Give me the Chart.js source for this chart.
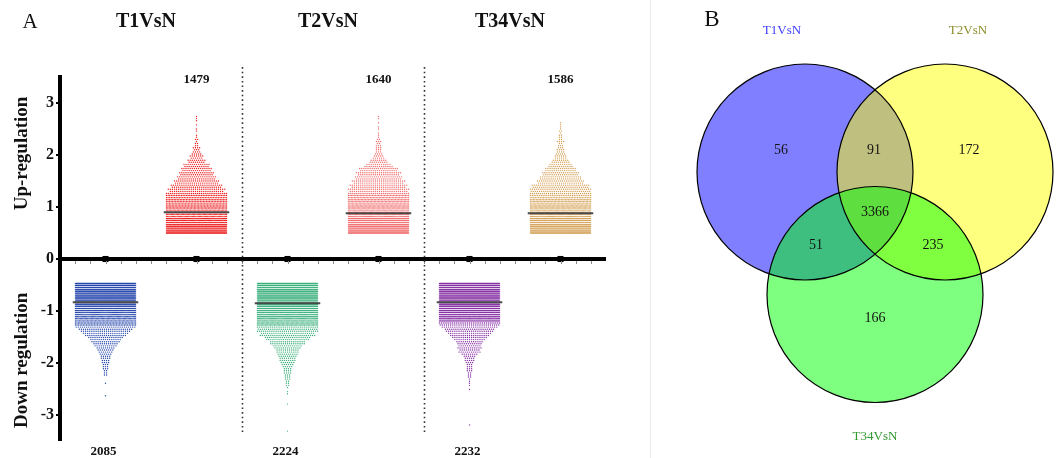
<!DOCTYPE html>
<html>
<head>
<meta charset="utf-8">
<script src="https://cdn.jsdelivr.net/npm/chart.js@4.4.1/dist/chart.umd.min.js"></script>
<style>
  html, body { margin: 0; padding: 0; background: #fff; }
  #wrap { position: relative; width: 1060px; height: 458px; overflow: hidden; }
  #swarm { position: absolute; left: 0; top: 0; }
  #venn { position: absolute; left: 652px; top: 0; }
  #divider { position: absolute; left: 650px; top: 0; width: 1px; height: 458px; background: #ececec; }
</style>
</head>
<body>
<div id="wrap">
  <canvas id="swarm" width="650" height="458"></canvas>
  <div id="divider"></div>
  <canvas id="venn" width="408" height="458"></canvas>
</div>
<script>
// ---------- data ----------
const groups = ['T1VsN', 'T2VsN', 'T34VsN'];
const yTickValues = [-3, -2, -1, 0, 1, 2, 3];

// log2 fold-change rows, 0.04 apart; counts = genes per row
const rowStep = 0.04;
const upStart = 0.50;
const downStart = -0.47;

const upCountsT1 = [98, 92, 86, 81, 76, 72, 68, 64, 52, 50,
  48, 46, 44, 42, 42, 40, 40, 38, 37,
  32, 26, 28, 24, 25, 21, 22, 18, 19, 16, 17, 14, 15, 12, 13, 8, 9, 6, 7, 5, 4, 3,
  4, 2, 2, 1, 2, 1, 1, 0, 1, 1, 0, 1, 0, 1, 1, 1];
const upCountsT2 = [108, 102, 96, 90, 85, 80, 76, 72, 58, 53,
  53, 51, 49, 47, 46, 45, 43, 42, 41,
  32, 28, 30, 26, 28, 24, 26, 22, 23, 20, 22, 18, 19, 14, 12, 9, 8, 6, 5, 4, 3, 3,
  3, 3, 2, 3, 2, 1, 1, 1, 0, 1, 1, 0, 1, 0, 1, 1];
const upCountsT34 = [104, 98, 92, 86, 81, 77, 73, 69, 58, 55,
  54, 52, 50, 48, 46, 44, 42, 38, 34,
  31, 29, 30, 27, 28, 22, 23, 20, 20, 17, 18, 15, 15, 12, 11, 9, 8, 6, 6, 5, 4, 4,
  3, 3, 2, 4, 2, 2, 2, 1, 2, 1, 1, 1, 1];

const downCountsT1 = [128, 124, 120, 117, 114, 111, 110, 108, 110,
  103, 96, 88, 78, 70, 64, 58, 54, 50, 46, 42, 39,
  29, 26, 24, 22, 20, 17, 15, 14, 12, 11, 9, 8, 7, 6, 5, 5, 4, 4, 3, 3,
  3, 2, 2, 2, 0, 0, 0, 1, 0, 0, 0, 0, 0, 1];
const downCountsT2 = [125, 120, 117, 114, 111, 109, 107, 105, 104, 100,
  99, 92, 85, 77, 71, 65, 61, 57, 53, 49, 47,
  33, 29, 30, 26, 27, 22, 21, 17, 17, 14, 13, 11, 11, 10, 9, 8, 8, 7, 6, 5, 4, 4,
  4, 3, 3, 3, 2, 2, 2, 1, 0, 1, 1, 0, 0, 0, 0, 1, 0, 0, 0, 0, 0, 0, 0, 0, 0, 0, 0, 0, 1];
const downCountsT34 = [126, 121, 118, 115, 112, 110, 108, 106, 104, 100,
  111, 110, 102, 94, 86, 79, 73, 67, 61,
  33, 29, 27, 24, 23, 21, 19, 17, 15, 13, 12, 11, 12, 10, 11, 8, 6, 5, 5, 4, 3, 3, 3,
  3, 2, 2, 2, 1, 1, 1, 1, 0, 1, 0, 0, 0, 0, 0, 0, 0, 0, 0, 0, 0, 0, 0, 0, 0, 0, 1];

// Venn regions (gene counts)
const vennSets = ['T1VsN', 'T2VsN', 'T34VsN'];
const vennRegionNames = ['T1 only', 'T1&T2', 'T2 only', 'T1&T2&T34', 'T1&T34', 'T2&T34', 'T34 only'];
const vennRegionCounts = [56, 91, 172, 3366, 51, 235, 166];

// ---------- styles / layout ----------
const upCounts = [upCountsT1, upCountsT2, upCountsT34];
const downCounts = [downCountsT1, downCountsT2, downCountsT34];
const upColors = ['rgb(236,30,30)', 'rgb(240,108,108)', 'rgb(212,160,86)'];
const downColors = ['rgb(40,72,172)', 'rgb(62,176,126)', 'rgb(134,50,164)'];
const SERIF = '"Liberation Serif", "Times New Roman", serif';
const DOT_GAP = 0.023;      // x units between neighbouring dots
const SWARM_HALF = 0.33;    // half width of a swarm row, x units
const MEDIAN_HALF = 0.36;

function sum(a) { return a.reduce((s, v) => s + v, 0); }

// lay each row of genes out side by side around the group centre
function swarmPoints(xc, start, dir, counts) {
  const pts = [];
  counts.forEach((n, i) => {
    const v = Math.round((start + dir * i * rowStep) * 1000) / 1000;
    const gap = n > 1 ? Math.min(DOT_GAP, SWARM_HALF * 2 / (n - 1)) : 0;
    for (let k = 0; k < n; k++) pts.push({ x: xc + (k - (n - 1) / 2) * gap, y: v });
  });
  return pts;
}
function median(pts) {
  const v = pts.map(p => p.y).sort((a, b) => a - b);
  const m = v.length >> 1;
  return v.length % 2 ? v[m] : (v[m - 1] + v[m]) / 2;
}

const upX = groups.map((g, i) => 2 * i + 1.5);
const downX = groups.map((g, i) => 2 * i + 0.5);
const axisMarks = [...downX, ...upX].sort((a, b) => a - b);

const datasets = [];
const medians = [];
groups.forEach((g, i) => {
  const up = swarmPoints(upX[i], upStart, 1, upCounts[i]);
  const down = swarmPoints(downX[i], downStart, -1, downCounts[i]);
  medians.push({ x: upX[i], y: median(up) }, { x: downX[i], y: median(down) });
  datasets.push({ label: g + ' up', data: up, pointBackgroundColor: upColors[i], order: 2 });
  datasets.push({ label: g + ' down', data: down, pointBackgroundColor: downColors[i], order: 2 });
});
datasets.forEach(d => Object.assign(d, { pointRadius: 0.7, pointBorderWidth: 0, pointHoverRadius: 0 }));
datasets.push({
  label: 'marks', data: axisMarks.map(x => ({ x, y: 0 })), pointStyle: 'rect',
  pointRadius: 4.3, pointBackgroundColor: '#000', pointBorderWidth: 0, order: 0
});

const swarmDecor = {
  id: 'swarmDecor',
  afterDatasetsDraw(chart) {
    const c = chart.ctx, xs = chart.scales.x, ys = chart.scales.y;
    c.save();
    // minor marks under the zero line
    c.fillStyle = '#8a8a8a';
    for (let k = 1; k < 36; k++) {
      const px = Math.round(xs.getPixelForValue(k / 6));
      c.fillRect(px, ys.getPixelForValue(0) + 2, 1, 3);
    }
    // dotted group separators
    c.strokeStyle = '#333'; c.lineWidth = 1.6; c.setLineDash([1.6, 3]);
    [2, 4].forEach(v => {
      const px = Math.round(xs.getPixelForValue(v)) + 0.5;
      c.beginPath();
      c.moveTo(px, ys.getPixelForValue(3.69));
      c.lineTo(px, ys.getPixelForValue(-3.35));
      c.stroke();
    });
    c.setLineDash([]);
    // medians
    c.strokeStyle = '#4a4a4a'; c.lineWidth = 2;
    medians.forEach(m => {
      const py = ys.getPixelForValue(m.y);
      c.beginPath();
      c.moveTo(xs.getPixelForValue(m.x - MEDIAN_HALF), py);
      c.lineTo(xs.getPixelForValue(m.x + MEDIAN_HALF), py);
      c.stroke();
    });
    // texts
    c.fillStyle = '#111'; c.textAlign = 'center'; c.textBaseline = 'middle';
    c.font = '21px ' + SERIF;
    c.fillText('A', 30, 22);
    c.font = 'bold 20px ' + SERIF;
    groups.forEach((g, i) => c.fillText(g, xs.getPixelForValue(2 * i + 1) - 5, 22));
    c.font = 'bold 13px ' + SERIF;
    groups.forEach((g, i) => {
      c.fillText(String(sum(upCounts[i])), xs.getPixelForValue(upX[i]), 80);
      c.fillText(String(sum(downCounts[i])), xs.getPixelForValue(downX[i]) - 2, 452);
    });
    c.font = 'bold 19px ' + SERIF;
    [['Up-regulation', 2.03], ['Down regulation', -1.95]].forEach(([t, v]) => {
      c.save();
      c.translate(22, ys.getPixelForValue(v));
      c.rotate(-Math.PI / 2);
      c.fillText(t, 0, 0);
      c.restore();
    });
    c.restore();
  }
};

new Chart(document.getElementById('swarm'), {
  type: 'scatter',
  data: { datasets },
  options: {
    responsive: false, animation: false, events: [],
    layout: { padding: { top: 77, bottom: 17, left: 0, right: 44 } },
    plugins: { legend: { display: false }, tooltip: { enabled: false } },
    scales: {
      x: { type: 'linear', min: 0, max: 6, display: false },
      y: {
        type: 'linear', min: -3.5, max: 3.5,
        afterFit: s => { s.width = 60; },
        afterBuildTicks: s => { s.ticks = yTickValues.map(v => ({ value: v })); },
        ticks: { color: '#111', padding: 2, font: { family: SERIF, size: 16, weight: 'bold' } },
        grid: {
          drawOnChartArea: true,
          color: c => (c.tick && c.tick.value === 0) ? '#000' : 'rgba(0,0,0,0)',
          lineWidth: c => (c.tick && c.tick.value === 0) ? 4 : 0,
          tickColor: '#000', tickWidth: 2, tickLength: 4
        },
        border: { display: true, color: '#000', width: 4 }
      }
    }
  },
  plugins: [swarmDecor]
});

// ---------- Venn diagram ----------
// circle centres and radius in the Venn panel's own coordinate frame
const vennCircles = [{ x: 153, y: 172, size: 108 }, { x: 293, y: 172, size: 108 }, { x: 223, y: 294.5, size: 108 }];
const vennFills = ['rgba(0,0,255,0.5)', 'rgba(255,255,0,0.5)', 'rgba(0,255,0,0.5)'];
const vennRegionPos = [[129, 150], [222, 150], [317, 150], [223, 212], [164, 245], [281, 245], [223, 318]];
const vennSetPos = [[130, 31], [316, 31], [223, 437]];
const vennSetColors = ['#4040ff', '#8c8c2c', '#2f9a2f'];

const vennDraw = {
  id: 'vennDraw',
  beforeDatasetsDraw(chart) {
    const c = chart.ctx, xs = chart.scales.x, ys = chart.scales.y;
    const geo = vennCircles.map(v => ({
      cx: xs.getPixelForValue(v.x),
      cy: ys.getPixelForValue(v.y),
      r: xs.getPixelForValue(v.x + v.size) - xs.getPixelForValue(v.x)
    }));
    c.save();
    geo.forEach((g, i) => {
      c.beginPath();
      c.arc(g.cx, g.cy, g.r, 0, Math.PI * 2);
      c.fillStyle = vennFills[i];
      c.fill();
    });
    c.strokeStyle = '#000'; c.lineWidth = 1.2;
    geo.forEach(g => {
      c.beginPath();
      c.arc(g.cx, g.cy, g.r, 0, Math.PI * 2);
      c.stroke();
    });
    c.restore();
  },
  afterDatasetsDraw(chart) {
    const c = chart.ctx, xs = chart.scales.x, ys = chart.scales.y;
    c.save();
    c.textAlign = 'center'; c.textBaseline = 'middle';
    c.fillStyle = '#111';
    c.font = '23px ' + SERIF;
    c.fillText('B', 60, 20);
    c.font = '14px ' + SERIF;
    vennRegionCounts.forEach((n, i) => {
      c.fillText(String(n), xs.getPixelForValue(vennRegionPos[i][0]), ys.getPixelForValue(vennRegionPos[i][1]));
    });
    c.font = '13px ' + SERIF;
    vennSets.forEach((s, i) => {
      c.fillStyle = vennSetColors[i];
      c.fillText(s, xs.getPixelForValue(vennSetPos[i][0]), ys.getPixelForValue(vennSetPos[i][1]));
    });
    c.restore();
  }
};

new Chart(document.getElementById('venn'), {
  type: 'scatter',
  data: { datasets: [{ label: 'centres', data: vennCircles.map(v => ({ x: v.x, y: v.y })), pointRadius: 0, pointHoverRadius: 0 }] },
  options: {
    responsive: false, animation: false, events: [],
    layout: { padding: 0 },
    plugins: { legend: { display: false }, tooltip: { enabled: false } },
    scales: {
      x: { type: 'linear', min: 0, max: 408, display: false },
      y: { type: 'linear', min: 0, max: 458, reverse: true, display: false }
    }
  },
  plugins: [vennDraw]
});
</script>
</body>
</html>
